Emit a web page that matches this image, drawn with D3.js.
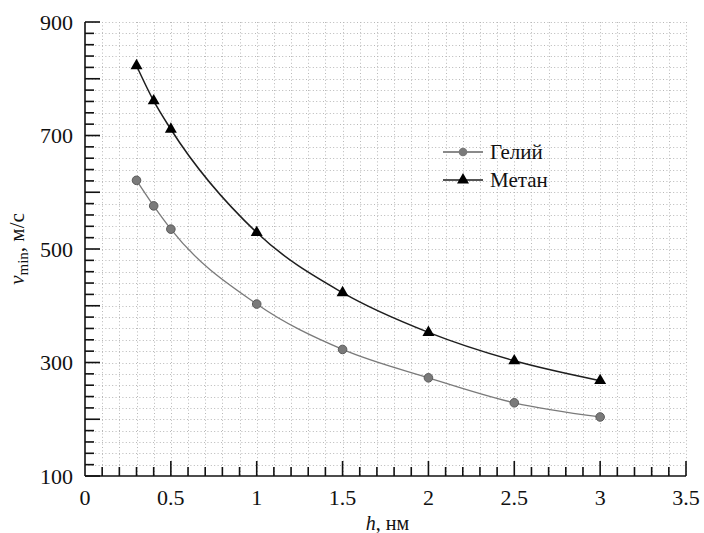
<!DOCTYPE html>
<html>
<head>
<meta charset="utf-8">
<script src="https://cdn.jsdelivr.net/npm/d3@7"></script>
<style>
  html, body { margin: 0; padding: 0; background: #fff; }
  svg { display: block; }
</style>
</head>
<body>
<svg id="chart" width="704" height="533"></svg>
<script>
const hValues = [0.3, 0.4, 0.5, 1, 1.5, 2, 2.5, 3];
const heliumValues = [621, 576, 535, 403, 323, 273, 229, 204];
const methaneValues = [823, 761, 711, 529, 423, 353, 303, 268];
const seriesNames = ["Гелий", "Метан"];
const xTickLabels = [0, 0.5, 1, 1.5, 2, 2.5, 3, 3.5];
const yTickLabels = [100, 300, 500, 700, 900];

(function () {
// pick an installed serif font
const ctx = document.createElement("canvas").getContext("2d");
function width(f) { ctx.font = "30px " + f; return ctx.measureText("Гелий Метан 0123456789 mwil").width; }
const candidates = ["Liberation Serif", "Times New Roman", "Tinos", "DejaVu Serif", "Noto Serif", "FreeSerif", "Times"];
const baseMono = width("monospace"), baseSans = width("sans-serif");
let chosen = null;
for (const c of candidates) {
  if (width(`'${c}', monospace`) !== baseMono && width(`'${c}', sans-serif`) !== baseSans) { chosen = c; break; }
}
const FONT = chosen ? `'${chosen}', serif` : "serif";

const svg = d3.select("#chart");
const pL = 85, pR = 686, pT = 22, pB = 476;

const x = d3.scaleLinear().domain([0, 3.5]).range([pL, pR]);
const y = d3.scaleLinear().domain([100, 900]).range([pB, pT]);

const xMinor = d3.range(0, 36).map(i => i / 10);
const yMinor = d3.range(100, 901, 20);

// grid
const grid = svg.append("g").attr("stroke", "#b8b8b8").attr("stroke-width", 1).attr("stroke-dasharray", "1,2.4");
grid.selectAll("line.v").data(xMinor.filter(d => d > 0)).join("line")
  .attr("x1", d => Math.round(x(d)) + 0.5).attr("x2", d => Math.round(x(d)) + 0.5)
  .attr("y1", pT).attr("y2", pB);
grid.selectAll("line.h").data(yMinor.filter(d => d > 100)).join("line")
  .attr("x1", pL).attr("x2", pR)
  .attr("y1", d => Math.round(y(d)) + 0.5).attr("y2", d => Math.round(y(d)) + 0.5);

// axes with inward ticks
const axG = svg.append("g").attr("stroke", "#111").attr("stroke-width", 1.6);
axG.append("line").attr("x1", pL).attr("x2", pL).attr("y1", pT).attr("y2", pB);
axG.append("line").attr("x1", pL).attr("x2", pR).attr("y1", pB).attr("y2", pB);
axG.selectAll("line.yt").data(yMinor).join("line")
  .attr("x1", pL).attr("x2", d => pL + (d % 100 === 0 ? 15 : 9))
  .attr("y1", d => y(d)).attr("y2", d => y(d));
axG.selectAll("line.xt").data(xMinor.filter(d => d > 0)).join("line")
  .attr("y1", pB).attr("y2", d => pB - (Math.round(d * 10) % 5 === 0 ? 15 : 9))
  .attr("x1", d => x(d)).attr("x2", d => x(d));

// tick labels
svg.append("g").selectAll("text").data(yTickLabels).join("text")
  .style("font-family", FONT).attr("fill", "#111")
  .attr("x", pL - 12).attr("y", d => y(d)).attr("dy", "0.35em")
  .attr("text-anchor", "end").attr("font-size", 22).text(d => d);
svg.append("g").selectAll("text").data(xTickLabels).join("text")
  .style("font-family", FONT).attr("fill", "#111")
  .attr("x", d => x(d)).attr("y", 505)
  .attr("text-anchor", "middle").attr("font-size", 22).text(d => d);

// axis titles
const xt = svg.append("text").style("font-family", FONT).attr("fill", "#111")
  .attr("x", (pL + pR) / 2 + 2).attr("y", 530)
  .attr("text-anchor", "middle").attr("font-size", 20);
xt.append("tspan").attr("font-style", "italic").text("h");
xt.append("tspan").text(", нм");

const yt = svg.append("text").style("font-family", FONT).attr("fill", "#111")
  .attr("transform", `translate(24, ${(pT + pB) / 2}) rotate(-90)`)
  .attr("text-anchor", "middle").attr("font-size", 21);
yt.append("tspan").attr("font-style", "italic").text("v");
yt.append("tspan").attr("font-size", 15).attr("dy", 4).text("min");
yt.append("tspan").attr("dy", -4).text(", м/с");

// series
const line = d3.line().x(d => x(d[0])).y(d => y(d[1])).curve(d3.curveMonotoneX);
const helium = hValues.map((h, i) => [h, heliumValues[i]]);
const methane = hValues.map((h, i) => [h, methaneValues[i]]);

svg.append("path").datum(helium).attr("d", line)
  .attr("fill", "none").attr("stroke", "#7a7a7a").attr("stroke-width", 1.3);
svg.append("path").datum(methane).attr("d", line)
  .attr("fill", "none").attr("stroke", "#1e1e1e").attr("stroke-width", 1.5);

const circ = d3.symbol().type(d3.symbolCircle).size(58);
const tri = d3.symbol().type(d3.symbolTriangle).size(62);

svg.append("g").selectAll("path").data(helium).join("path")
  .attr("transform", d => `translate(${x(d[0])},${y(d[1])})`)
  .attr("d", circ).attr("fill", "#7a7a7a").attr("stroke", "#5a5a5a").attr("stroke-width", 1);
svg.append("g").selectAll("path").data(methane).join("path")
  .attr("transform", d => `translate(${x(d[0])},${y(d[1])})`)
  .attr("d", tri).attr("fill", "#000");

// legend
const leg = svg.append("g");
const legY = [152, 180];
const legColors = ["#8a8a8a", "#555"];
seriesNames.forEach((name, i) => {
  leg.append("line").attr("x1", 443).attr("x2", 483).attr("y1", legY[i]).attr("y2", legY[i])
    .attr("stroke", legColors[i]).attr("stroke-width", 2);
  leg.append("path").attr("transform", `translate(463,${legY[i]})`)
    .attr("d", i === 0 ? circ : tri)
    .attr("fill", i === 0 ? "#7a7a7a" : "#000");
  leg.append("text").style("font-family", FONT).attr("fill", "#111")
    .attr("x", 490).attr("y", legY[i]).attr("dy", "0.35em")
    .attr("font-size", 21).text(name);
});
})();
</script>
</body>
</html>
